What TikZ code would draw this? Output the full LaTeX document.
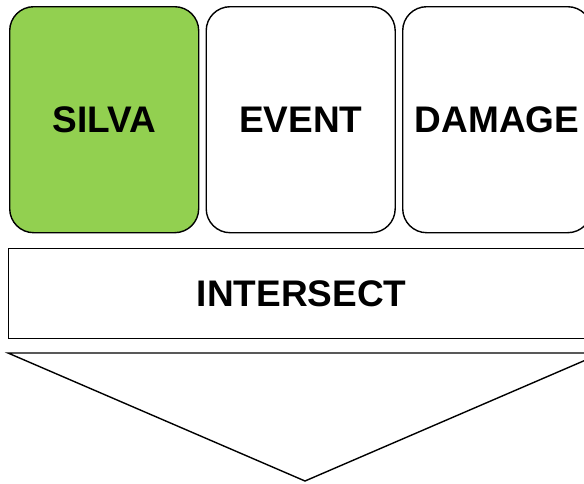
\documentclass[tikz,border=0pt]{standalone}
\usepackage{fontspec}
\setmainfont{Liberation Sans}
\definecolor{silvagreen}{HTML}{92D050}
\begin{document}
\begin{tikzpicture}[x=1pt,y=-1pt,
  card/.style={draw=black,line width=1.4pt,rounded corners=24pt,minimum width=189pt,minimum height=226pt,inner sep=0pt,anchor=north west,font=\fontsize{37}{42}\selectfont\bfseries},
  bar/.style={draw=black,line width=1.4pt,minimum width=586pt,minimum height=90pt,inner sep=0pt,anchor=north west,font=\fontsize{37}{42}\selectfont\bfseries}]
\useasboundingbox (0,0) rectangle (584,483);
\clip (0,0) rectangle (584,483);
\node[card,fill=silvagreen] (silva) at (9,6) {SILVA};
\node[card] (event) at (205.5,6) {EVENT};
\node[card] (damage) at (402,6) {DAMAGE};
\node[bar] (intersect) at (8,248) {INTERSECT};
\coordinate (tl) at (8,353);
\coordinate (tr) at (602,353);
\coordinate (apex) at (305,481);
\draw[line width=1.4pt,line join=miter] (tl) -- (tr) -- (apex) -- cycle;
\end{tikzpicture}
\end{document}
